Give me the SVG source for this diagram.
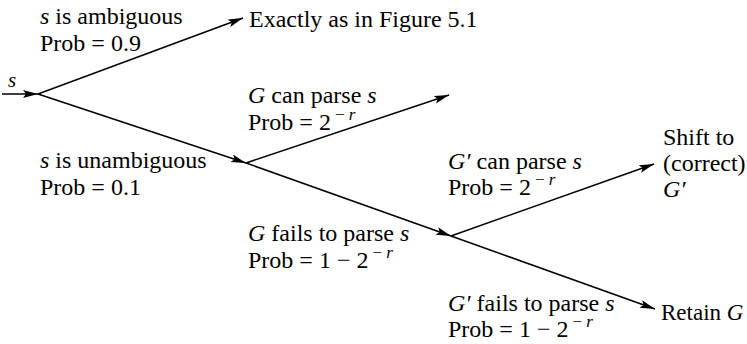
<svg xmlns="http://www.w3.org/2000/svg" width="747" height="344" viewBox="0 0 747 344">
<defs>
<marker id="ah" markerUnits="userSpaceOnUse" markerWidth="16" markerHeight="10" refX="15" refY="4" orient="auto">
<path d="M0,0 L15,4 L0,8 L3,4 Z" fill="#000"/>
</marker>
<style>
text{font-family:'Liberation Serif','Tinos','Times New Roman',serif;font-size:24px;fill:#000}
.i{font-style:italic}
.sup{font-size:17px}
.conn line{stroke:#000;stroke-width:1.5;fill:none;marker-end:url(#ah)}
</style>
</defs>
<rect width="747" height="344" fill="#fff"/>
<g class="conn" id="connectors">
<line x1="2" y1="94" x2="38" y2="94"/>
<line x1="38" y1="94" x2="243" y2="18"/>
<line x1="38" y1="94" x2="246" y2="163"/>
<line x1="246" y1="163" x2="449" y2="95"/>
<line x1="246" y1="163" x2="451" y2="236"/>
<line x1="451" y1="236" x2="654" y2="164"/>
<line x1="451" y1="236" x2="655" y2="309"/>
</g>
<g id="start"><text x="8" y="87" class="i" style="font-size:21px">s</text></g>
<g id="ambiguous">
<text x="40" y="24"><tspan class="i">s</tspan> is ambiguous</text>
<text x="40" y="51">Prob = 0.9</text>
</g>
<g id="exactly"><text x="249" y="27">Exactly as in Figure 5.1</text></g>
<g id="unambiguous">
<text x="40" y="168"><tspan class="i">s</tspan> is unambiguous</text>
<text x="40" y="195">Prob = 0.1</text>
</g>
<g id="g-can">
<text x="248" y="103"><tspan class="i">G</tspan> can parse <tspan class="i">s</tspan></text>
<text x="248" y="130">Prob = 2<tspan class="sup" dx="4" dy="-10">− <tspan class="i">r</tspan></tspan></text>
</g>
<g id="g-fails">
<text x="248" y="241"><tspan class="i">G</tspan> fails to parse <tspan class="i">s</tspan></text>
<text x="248" y="268">Prob = 1 − 2<tspan class="sup" dx="4" dy="-10">− <tspan class="i">r</tspan></tspan></text>
</g>
<g id="gp-can">
<text x="448" y="169"><tspan class="i">G′</tspan> can parse <tspan class="i">s</tspan></text>
<text x="448" y="195">Prob = 2<tspan class="sup" dx="4" dy="-10">− <tspan class="i">r</tspan></tspan></text>
</g>
<g id="gp-fails">
<text x="448" y="311"><tspan class="i">G′</tspan> fails to parse <tspan class="i">s</tspan></text>
<text x="448" y="337">Prob = 1 − 2<tspan class="sup" dx="4" dy="-10">− <tspan class="i">r</tspan></tspan></text>
</g>
<g id="shift">
<text x="663" y="145">Shift to</text>
<text x="663" y="171">(correct)</text>
<text x="663" y="197" class="i">G′</text>
</g>
<g id="retain"><text x="661" y="320" style="font-size:23px">Retain <tspan class="i">G</tspan></text></g>
</svg>
